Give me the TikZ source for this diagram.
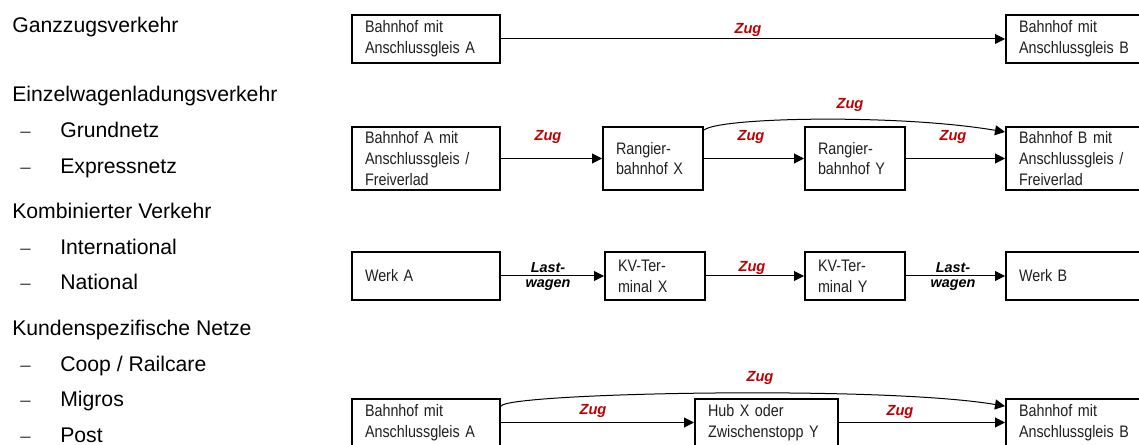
\documentclass[tikz,border=0pt]{standalone}
\usepackage{fontspec}
\setmainfont{Liberation Sans}
\newfontfamily\narrowfont[FakeStretch=0.86]{Liberation Sans}
\usetikzlibrary{arrows.meta}
\definecolor{zugred}{RGB}{192,0,0}
\protected\def\myboxfont{\narrowfont\fontsize{12.5}{15.6}\selectfont\spaceskip=1.8pt plus 0.5pt\relax}
\begin{document}
\begin{tikzpicture}[x=0.75pt,y=-0.75pt,
  box/.style={draw,line width=1.5pt,rectangle,inner xsep=9.75pt,inner ysep=0pt,align=left,
    font=\myboxfont,text=black!88},
  wA/.style={minimum width=111pt,text width=91.5pt},
  wS/.style={minimum width=75pt,text width=55.5pt},
  wH/.style={minimum width=107.25pt,text width=87.75pt},
  wB/.style={minimum width=112.5pt,text width=93pt},
  hS/.style={minimum height=36pt},
  hT/.style={minimum height=47.25pt},
  arr/.style={line width=0.75pt,-{Triangle[length=7.5pt,width=7.5pt]}},
  zug/.style={inner sep=0pt,text=zugred,font=\bfseries\itshape\fontsize{11}{12}\selectfont},
  lkw/.style={inner sep=0pt,align=center,text=black,font=\bfseries\itshape\fontsize{10.8}{10.9}\selectfont},
  lt/.style={anchor=base west,inner sep=0pt,font=\fontsize{15.9}{19}\selectfont},
  bulletdash/.style={anchor=base west,inner sep=0pt,text=black!75,font=\fontsize{14}{19}\selectfont}
]
\useasboundingbox (0,0) rectangle (1139,445);
\clip (0,0) rectangle (1139,445);

% left list
\node[lt] (t1) at (12,32.3) {Ganzzugsverkehr};
\node[lt] (t2) at (12,101.7) {Einzelwagenladungsverkehr};
\node[bulletdash] (d1) at (20,137.7) {–};
\node[lt] (t3) at (60,137.7) {Grundnetz};
\node[bulletdash] (d2) at (20,173.3) {–};
\node[lt] (t4) at (60,173.3) {Expressnetz};
\node[lt] (t5) at (12,219) {Kombinierter Verkehr};
\node[bulletdash] (d3) at (20,255) {–};
\node[lt] (t6) at (60,255) {International};
\node[bulletdash] (d4) at (20,290) {–};
\node[lt] (t7) at (60,290) {National};
\node[lt] (t8) at (12,335) {Kundenspezifische Netze};
\node[bulletdash] (d5) at (20,371) {–};
\node[lt] (t9) at (60,371) {Coop / Railcare};
\node[bulletdash] (d6) at (20,406.7) {–};
\node[lt] (t10) at (60,406.7) {Migros};
\node[bulletdash] (d7) at (20,442.7) {–};
\node[lt] (t11) at (60,442.7) {Post};

% row 1
\node[box,wA,hS] (r1a) at (426,39) {Bahnhof mit\\Anschlussgleis A};
\node[box,wB,hS] (r1b) at (1081,39) {Bahnhof mit\\Anschlussgleis B};
\draw[arr] (r1a) -- (r1b);
\node[zug] (z1) at (748,30) {Zug};

% row 2
\node[box,wA,hT] (r2a) at (426,158.5) {Bahnhof A mit\\Anschlussgleis /\\Freiverlad};
\node[box,wS,hT] (r2x) at (653,158.5) {Rangier-\\bahnhof X};
\node[box,wS,hT] (r2y) at (855,158.5) {Rangier-\\bahnhof Y};
\node[box,wB,hT] (r2b) at (1081,158.5) {Bahnhof B mit\\Anschlussgleis /\\Freiverlad};
\draw[arr] (r2a) -- (r2x);
\draw[arr] (r2x) -- (r2y);
\draw[arr] (r2y) -- (r2b);
\coordinate (c2s) at ([yshift=-3pt]r2x.north east);
\coordinate (c2e) at ([yshift=-4.5pt]r2b.north west);
\draw[arr] (c2s) .. controls (720,117) and (900,114) .. (c2e);
\node[zug] (z2a) at (548,137) {Zug};
\node[zug] (z2b) at (751,137) {Zug};
\node[zug] (z2c) at (953,137) {Zug};
\node[zug] (z2d) at (850,105) {Zug};

% row 3
\node[box,wA,hS] (r3a) at (426,276) {Werk A};
\node[box,wS,hS] (r3x) at (655,276) {KV-Ter-\\minal X};
\node[box,wS,hS] (r3y) at (855,276) {KV-Ter-\\minal Y};
\node[box,wB,hS] (r3b) at (1081,276) {Werk B};
\draw[arr] (r3a) -- (r3x);
\draw[arr] (r3x) -- (r3y);
\draw[arr] (r3y) -- (r3b);
\node[lkw] (l3a) at (548,276.5) {Last-\\wagen};
\node[zug] (z3) at (752,268) {Zug};
\node[lkw] (l3b) at (953,276.5) {Last-\\wagen};

% row 4
\node[box,wA,hS] (r4a) at (426,422.5) {Bahnhof mit\\Anschlussgleis A};
\node[box,wH,hS] (r4h) at (766.5,422.5) {Hub X oder\\Zwischenstopp Y};
\node[box,wB,hS] (r4b) at (1081,422.5) {Bahnhof mit\\Anschlussgleis B};
\draw[arr] (r4a) -- (r4h);
\draw[arr] (r4h) -- (r4b);
\coordinate (c4s) at ([yshift=-6.5pt]r4a.north east);
\coordinate (c4e) at ([yshift=-6.5pt]r4b.north west);
\draw[arr] (c4s) .. controls (505,393) and (880,385) .. (c4e);
\node[zug] (z4a) at (593,411) {Zug};
\node[zug] (z4b) at (900,412) {Zug};
\node[zug] (z4c) at (760,378) {Zug};
\end{tikzpicture}
\end{document}
